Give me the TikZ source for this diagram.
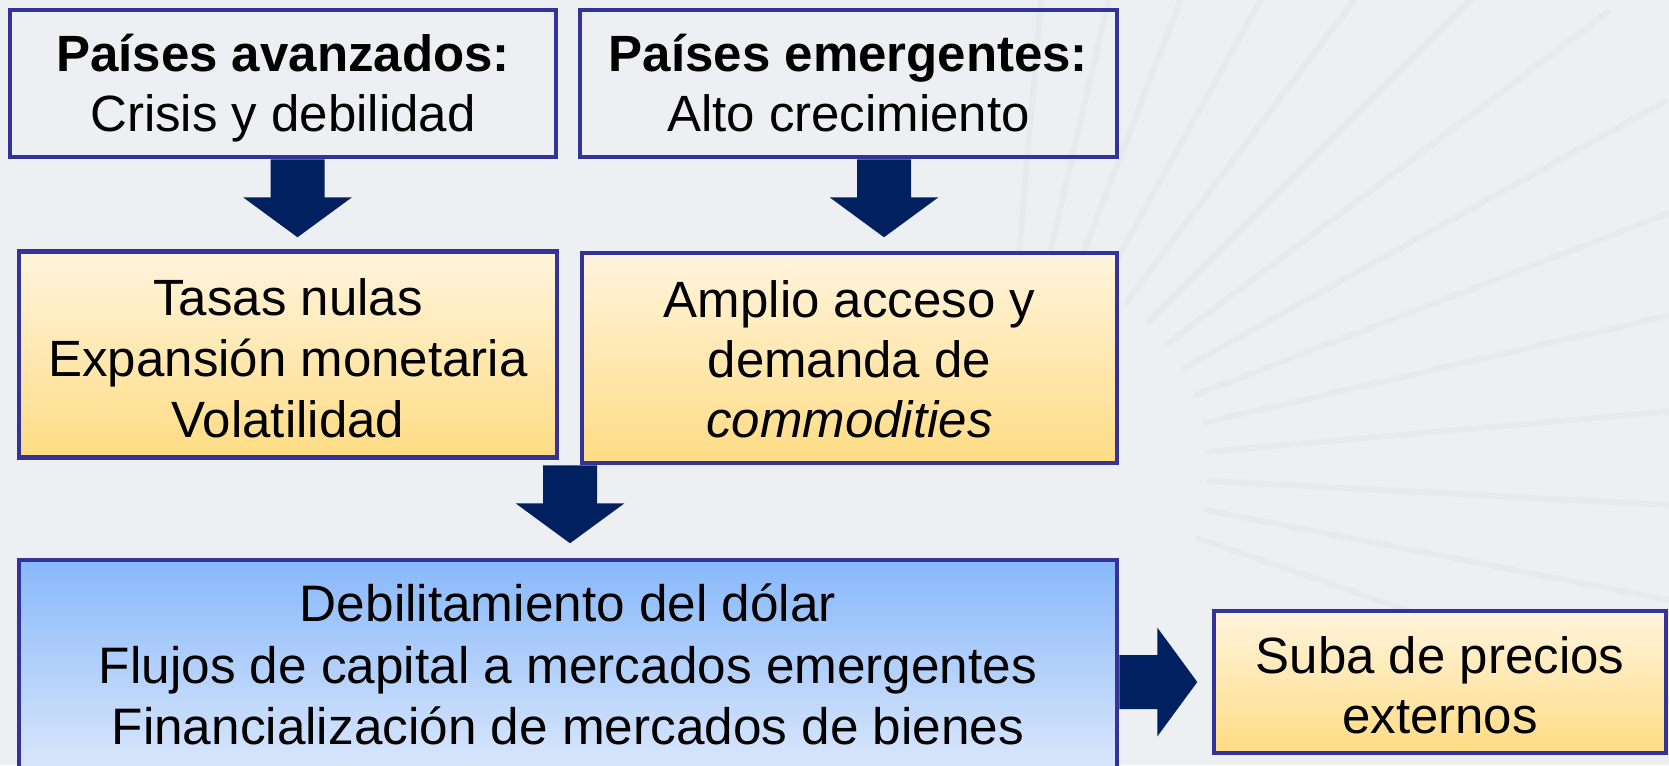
\documentclass[tikz,border=0pt]{standalone}
\usepackage{fontspec}
\setmainfont{Liberation Sans}
\usetikzlibrary{calc}
\definecolor{bordc}{HTML}{333399}
\definecolor{arrc}{HTML}{002060}
\definecolor{bgc}{HTML}{EEEFF2}
\definecolor{rayc}{HTML}{E8E9ED}
\definecolor{yeltop}{HTML}{FFF4DD}
\definecolor{yelbot}{HTML}{FFDC84}
\definecolor{bluetop}{HTML}{88B8FA}
\definecolor{bluebot}{HTML}{DCE8FC}
\newcommand\blockarr[3]{\fill[arrc, shift={(#1)}, rotate=#2] (0,-27) -- ({#3-40},-27) -- ({#3-40},-54.5) -- (#3,0) -- ({#3-40},54.5) -- ({#3-40},27) -- (0,27) -- cycle;}
\tikzset{
  box/.style={draw=bordc, line width=4.5pt, align=center, inner sep=0pt,
    font=\fontsize{51}{60}\selectfont},
  ybox/.style={box, top color=yeltop, bottom color=yelbot},
  bbox/.style={box, top color=bluetop, bottom color=bluebot,
    font=\fontsize{51.3}{61.5}\selectfont},
  ray/.style={draw=rayc, line width=6pt, line cap=round}
}
\begin{document}
\begin{tikzpicture}[x=1pt, y=-1pt]
\path[use as bounding box, clip] (0,0) rectangle (1669,765);
\fill[bgc] (0,0) rectangle (1669,765);
\coordinate (sun) at (1000,470);
\foreach \a in {-85,-77,...,20}
  \draw[ray] ($(sun)+(\a:210)$) -- ($(sun)+(\a:760)$);
\node[box, minimum width=546pt, minimum height=147pt, text height=108pt, text depth=12pt] (b1) at (283,83.5)
  {\textbf{Países avanzados:}\\Crisis y debilidad};
\node[box, minimum width=537pt, minimum height=147pt, text height=108pt, text depth=12pt] (b2) at (848.5,83.5)
  {\textbf{Países emergentes:}\\Alto crecimiento};
\node[ybox, minimum width=538pt, minimum height=206pt, text height=178pt, text depth=12pt,
  font=\fontsize{51}{61}\selectfont] (b3) at (288,354.5)
  {Tasas nulas\\Expansión monetaria\\Volatilidad};
\node[ybox, minimum width=535pt, minimum height=210pt, text height=170pt, text depth=12pt] (b4) at (849.5,358)
  {Amplio acceso y\\demanda de\\\textit{commodities}};
\node[bbox, minimum width=1098pt, minimum height=214pt, text height=167.5pt, text depth=12pt] (b5) at (568,667)
  {Debilitamiento del dólar\\Flujos de capital a mercados emergentes\\Financialización de mercados de bienes};
\node[ybox, minimum width=452pt, minimum height=142pt, text height=115pt, text depth=12pt] (b6) at (1440,682)
  {Suba de precios\\externos};
\coordinate (a1) at (297.5,0 |- b1.south);
\coordinate (a2) at (884,0 |- b2.south);
\coordinate (a3) at (570,0 |- b4.south);
\coordinate (a4) at (b5.east |- b6.center);
\blockarr{a1}{-90}{78}
\blockarr{a2}{-90}{78}
\blockarr{a3}{-90}{78}
\blockarr{a4}{0}{78}
\end{tikzpicture}
\end{document}
